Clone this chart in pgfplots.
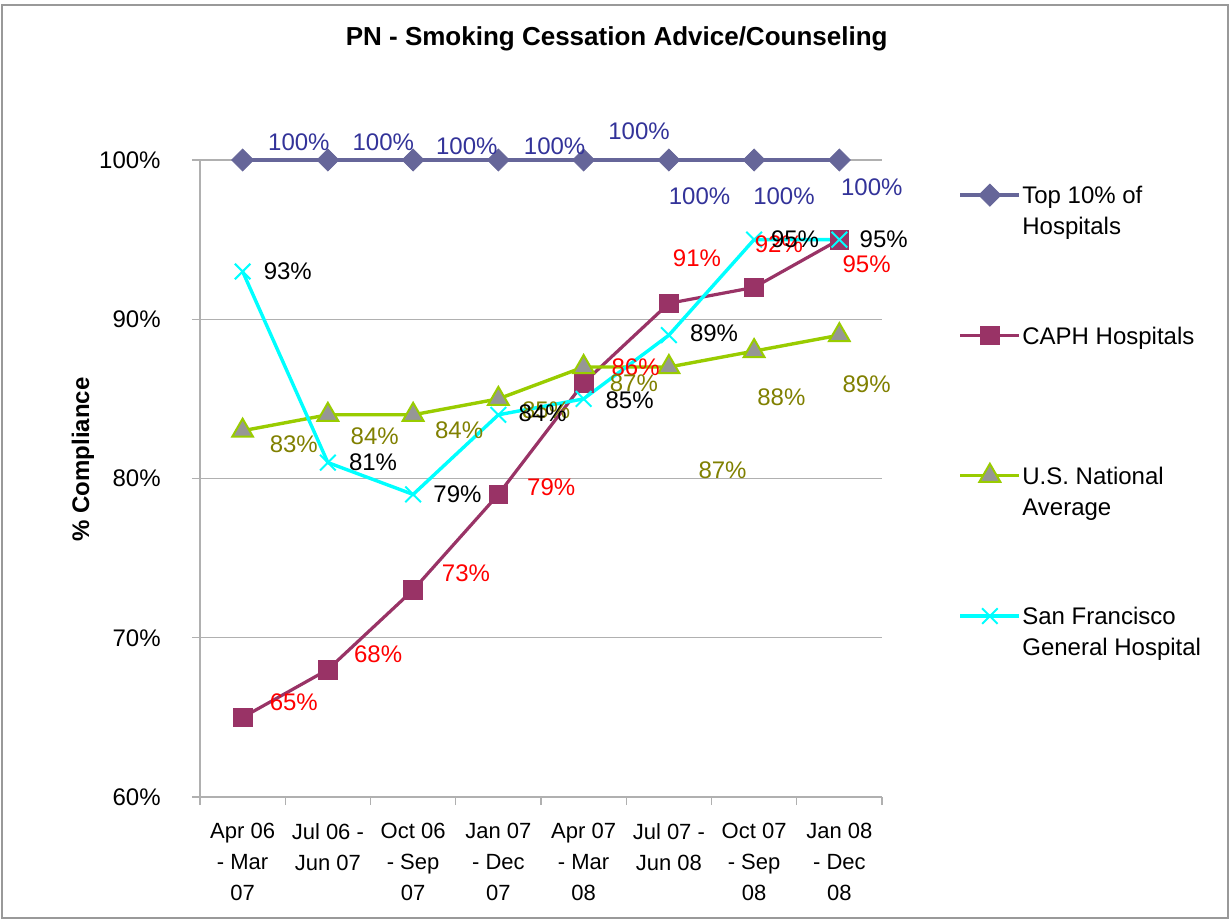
\documentclass[border=0pt]{standalone}
\usepackage{pgfplots}
\pgfplotsset{compat=1.18}
\usepackage{fontspec}
\setmainfont{Liberation Sans}
\definecolor{topcol}{HTML}{666699}
\definecolor{toplab}{HTML}{333399}
\definecolor{caphcol}{HTML}{993366}
\definecolor{uscol}{HTML}{99CC00}
\definecolor{uslab}{HTML}{808000}
\definecolor{sfcol}{HTML}{00FFFF}
\definecolor{trifill}{HTML}{969696}
\definecolor{gridcol}{HTML}{B0B0B0}
\newcommand{\lblfont}{\fontsize{12}{14}\selectfont}

\begin{document}
\fontsize{12}{15.5}\selectfont
\begin{tikzpicture}
\useasboundingbox (-100pt,-61.5pt) rectangle (515pt,398.5pt);
\draw[gray!80, line width=0.7pt] (-99pt,-60.5pt) rectangle (514pt,396pt);
\begin{axis}[
  at={(0,0)}, anchor=south west,
  scale only axis, width=341pt, height=318.5pt,
  xmin=-0.5, xmax=7.5, ymin=60, ymax=100,
  axis x line*=bottom, axis y line*=left,
  axis line style={gridcol, line width=0.7pt},
  clip=false,
  tick align=outside,
  major tick length=4pt, minor tick length=4pt,
  xtick={0,...,7},
  xticklabels={{Apr 06\\- Mar\\07},{Jul 06 -\\Jun 07},{Oct 06\\- Sep\\07},{Jan 07\\- Dec\\07},
               {Apr 07\\- Mar\\08},{Jul 07 -\\Jun 08},{Oct 07\\- Sep\\08},{Jan 08\\- Dec\\08}},
  xticklabel style={align=center, font=\fontsize{11}{15.5}\selectfont, yshift=-5pt},
  major x tick style={draw=none},
  minor xtick={-0.5,0.5,...,7.5},
  minor x tick style={gridcol, line width=0.7pt},
  ytick={60,70,80,90,100},
  yticklabels={60\%,70\%,80\%,90\%,100\%},
  yticklabel style={font=\lblfont, xshift=-11.5pt},
  ytick style={gridcol, line width=0.7pt},
  ymajorgrids, grid style={gridcol, line width=0.7pt},
  title={PN - Smoking Cessation Advice/Counseling},
  title style={font=\bfseries\fontsize{13}{15}\selectfont, at={(0.611,1.172)}, anchor=center},
  ylabel={\% Compliance},
  ylabel style={font=\bfseries\fontsize{12}{14}\selectfont, at={(-0.1716,0.53)}, anchor=center},
  legend style={at={(1.1114,0.966)}, anchor=north west, draw=none, fill=none,
    inner sep=0pt, row sep=57.5pt, column sep=0.5pt, font=\fontsize{12}{15.5}\selectfont,
    cells={anchor=base west}, nodes={inner sep=0pt}},
  legend image code/.code={\draw[mark repeat=2,mark phase=2] plot coordinates {(0pt,4.3pt)(14.75pt,4.3pt)(29.5pt,4.3pt)};},
]
% Top 10% of Hospitals
\addplot[topcol, line width=2pt, mark=square*, mark size=3.9pt,
  mark options={rotate=45, fill=topcol, draw=topcol, line width=0.4pt}]
  coordinates {(0,100)(1,100)(2,100)(3,100)(4,100)(5,100)(6,100)(7,100)};
% CAPH Hospitals
\addplot[caphcol, line width=1.6pt, mark=square*, mark size=4.7pt,
  mark options={fill=caphcol, draw=caphcol, line width=0.4pt}]
  coordinates {(0,65)(1,68)(2,73)(3,79)(4,86)(5,91)(6,92)(7,95)};
% U.S. National Average
\addplot[uscol, line width=1.7pt, mark=triangle*, mark size=6pt,
  mark options={fill=trifill, draw=uscol, line width=1pt}]
  coordinates {(0,83)(1,84)(2,84)(3,85)(4,87)(5,87)(6,88)(7,89)};
% San Francisco General Hospital
\addplot[sfcol, line width=1.7pt, mark=x, mark size=5.5pt,
  mark options={line width=1pt}]
  coordinates {(0,93)(1,81)(2,79)(3,84)(4,85)(5,89)(6,95)(7,95)};
\legend{{\begin{tabular}[t]{@{}l@{}}Top 10\% of\\Hospitals\end{tabular}},
        {\begin{tabular}[t]{@{}l@{}}CAPH Hospitals\\\mbox{}\end{tabular}},
        {\begin{tabular}[t]{@{}l@{}}U.S. National\\Average\end{tabular}},
        {\begin{tabular}[t]{@{}l@{}}San Francisco\\General Hospital\end{tabular}}}

% data labels
\addplot[forget plot, draw=none, nodes near coords, point meta=explicit symbolic,
  nodes near coords style={anchor=center, inner sep=0pt, text=toplab, font=\lblfont}]
  coordinates {(0.66,101.1)[100\%] (1.65,101.1)[100\%] (2.63,100.85)[100\%] (3.66,100.85)[100\%]
               (4.65,101.8)[100\%] (5.36,97.7)[100\%] (6.35,97.7)[100\%] (7.38,98.3)[100\%]};
\addplot[forget plot, draw=none, nodes near coords, point meta=explicit symbolic,
  nodes near coords style={anchor=center, inner sep=0pt, text=red, font=\lblfont}]
  coordinates {(0.6,65.97)[65\%] (1.59,68.98)[68\%] (2.62,74.07)[73\%] (3.62,79.47)[79\%]
               (4.61,87.0)[86\%] (5.33,93.85)[91\%] (6.29,94.73)[92\%] (7.32,93.47)[95\%]};
\addplot[forget plot, draw=none, nodes near coords, point meta=explicit symbolic,
  nodes near coords style={anchor=center, inner sep=0pt, text=uslab, font=\lblfont}]
  coordinates {(0.6,82.17)[83\%] (1.55,82.67)[84\%] (2.54,83.05)[84\%] (3.56,84.3)[85\%]
               (4.59,86.0)[87\%] (5.63,80.53)[87\%] (6.32,85.12)[88\%] (7.32,85.93)[89\%]};
\addplot[forget plot, draw=none, nodes near coords, point meta=explicit symbolic,
  nodes near coords style={anchor=center, inner sep=0pt, text=black, font=\lblfont}]
  coordinates {(0.53,93)[93\%] (1.53,81.04)[81\%] (2.52,79.03)[79\%] (3.52,84.1)[84\%]
               (4.54,84.93)[85\%] (5.53,89.14)[89\%] (6.48,95)[95\%] (7.52,95)[95\%]};
\end{axis}
\end{tikzpicture}
\end{document}
